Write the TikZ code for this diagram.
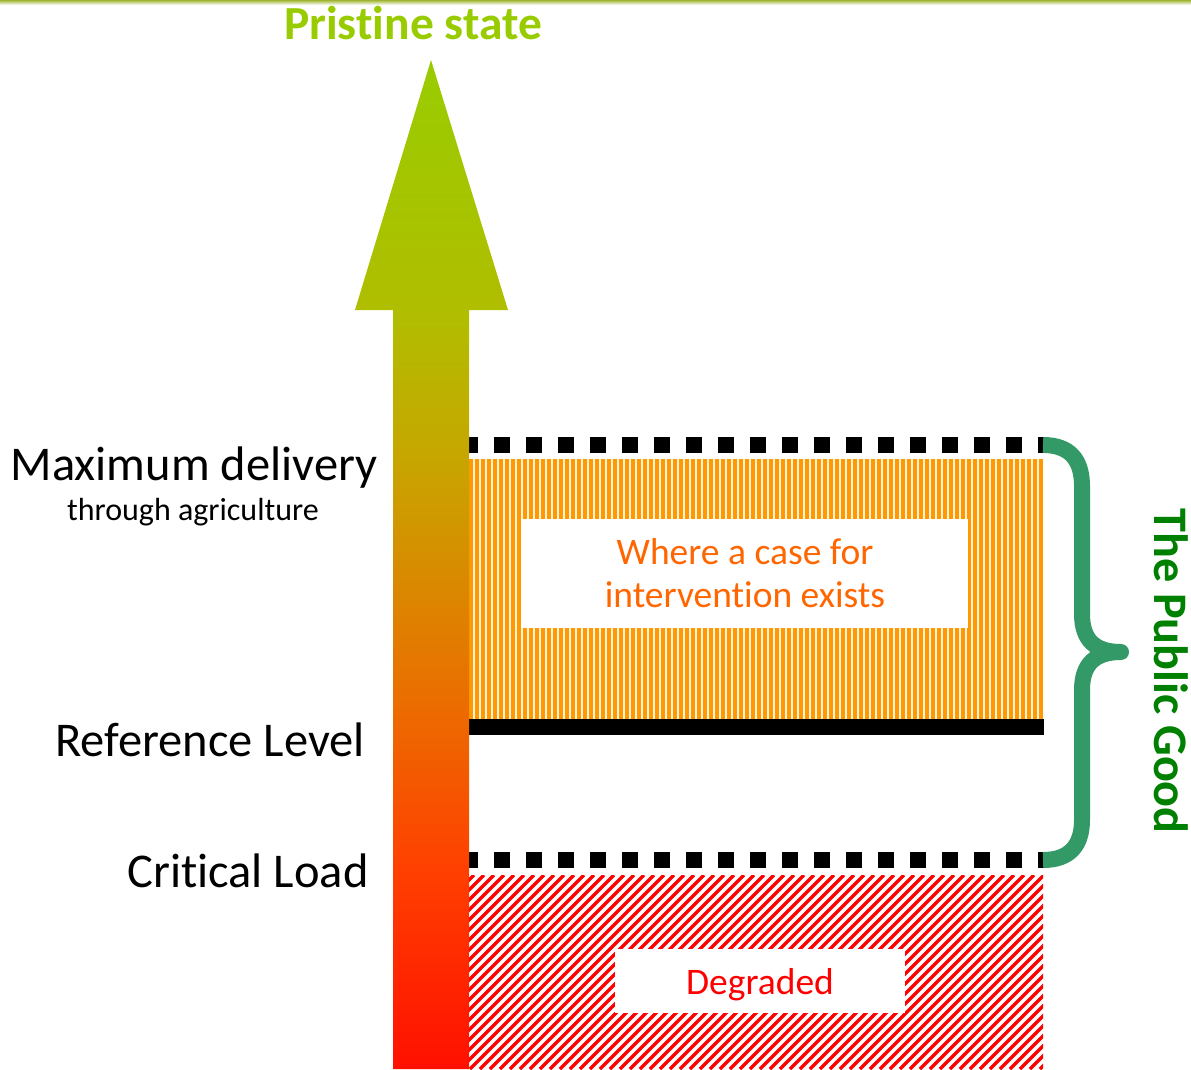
\documentclass[tikz,border=0pt]{standalone}
\usepackage{fontspec}
\setmainfont{Carlito}[Ligatures=NoCommon]
\usepackage{tikz}
\usetikzlibrary{positioning}
\definecolor{pristine}{RGB}{153,204,0}
\definecolor{bracegreen}{RGB}{51,153,102}
\definecolor{goodgreen}{RGB}{0,128,0}
\definecolor{caseorange}{RGB}{255,102,0}
\definecolor{stripeorange}{RGB}{255,153,0}
\definecolor{rimgreen}{RGB}{160,180,50}
% red at the bottom, green at the tip
\pgfdeclareverticalshading{stateshade}{100bp}{rgb(0bp)=(1,0.063,0); rgb(25bp)=(1,0.063,0); rgb(34.9bp)=(1,0.25,0); rgb(43.3bp)=(0.92,0.43,0); rgb(55.2bp)=(0.78,0.65,0); rgb(62.6bp)=(0.69,0.745,0); rgb(75bp)=(0.6,0.8,0); rgb(100bp)=(0.6,0.8,0)}

\begin{document}
\begin{tikzpicture}[x=1pt,y=-1pt,
  dotline/.style={line width=16pt,dash pattern=on 16pt off 16pt},
  lbl/.style={font=\fontsize{48.5}{56}\selectfont,anchor=base},
  boxtext/.style={anchor=base,font=\fontsize{37.5}{43}\selectfont}]
\useasboundingbox (0,0) rectangle (1191,1069);
% slide rim
\shade[top color=rimgreen,bottom color=white] (0,0) rectangle (1191,5);
% case for intervention: vertical stripes
\fill[stripeorange!12] (469,459) rectangle (1043,719);
\foreach \x in {471,477,...,1041}{\draw[stripeorange,line width=3.5pt] (\x,459) -- (\x,719);}
\fill[white] (521,519) rectangle (968,628);
% degraded: red hatching
\begin{scope}
\clip (469,875) rectangle (1043,1069);
\foreach \x in {270,280,...,1050}{\draw[red,line width=3.3pt] (\x,1069) -- (\x+194,875);}
\end{scope}
\fill[white] (615,949) rectangle (905,1013);
% levels
\draw[line width=16pt] (469,727) -- (1044,727);
\draw[dotline] (462,445) -- (1044,445);
\draw[dotline] (462,860) -- (1044,860);
% state arrow
\shade[shading=stateshade] (393,1069) -- (393,310) -- (355,310) -- (431,60) -- (508,310)
  -- (469,310) -- (469,1069) -- cycle;
% brace
\draw[bracegreen,line width=16pt,line join=round] (1043,445) .. controls (1070,445) and (1082,460) .. (1082,486)
  -- (1082,614) .. controls (1082,640) and (1095,652) .. (1121,652)
  .. controls (1095,652) and (1082,664) .. (1082,690)
  -- (1082,820) .. controls (1082,845) and (1070,860) .. (1043,860);
% labels
\node[lbl,font=\fontsize{47.5}{56}\selectfont\bfseries,text=pristine] (pristine) at (413,39) {Pristine state};
\node[lbl] (maxdel) at (194,480) {Maximum delivery};
\node[lbl,font=\fontsize{32}{36}\selectfont] (through) at (193,520) {through agriculture};
\node[lbl] (reflevel) at (210,756) {Reference Level};
\node[lbl] (critload) at (248,887) {Critical Load};
\node[boxtext,text=caseorange] (case1) at (745,564) {Where a case for};
\node[boxtext,text=caseorange] (case2) at (745,607) {intervention exists};
\node[boxtext,text=red] (degraded) at (760,994) {Degraded};
\node[lbl,font=\fontsize{48.2}{56}\selectfont\bfseries,text=goodgreen,rotate=-90] (good) at (1154,671) {The Public Good};
\end{tikzpicture}
\end{document}
